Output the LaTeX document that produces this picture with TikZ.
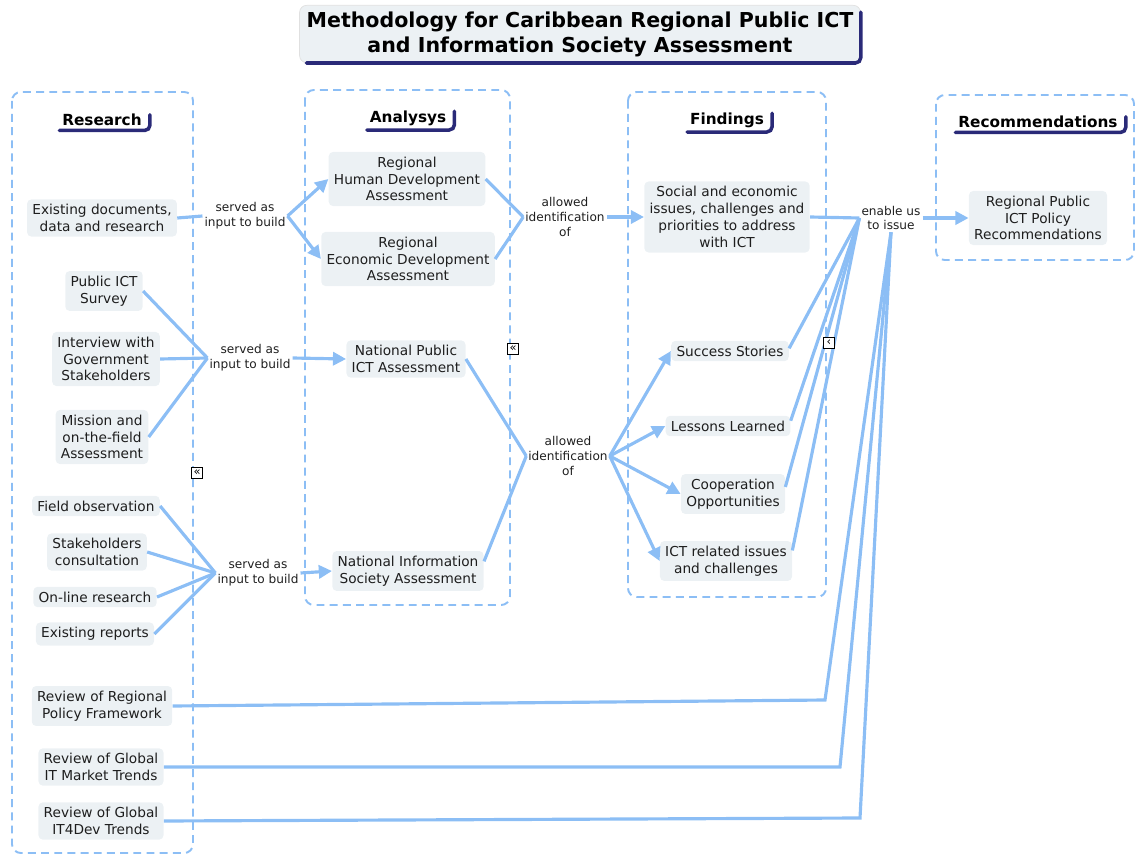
\documentclass[tikz,border=0pt]{standalone}
\usepackage{fontspec}
\setmainfont{DejaVu Sans}
\usetikzlibrary{arrows.meta}

\definecolor{linkblue}{HTML}{8CBEF5}
\definecolor{boxfill}{HTML}{ECF1F4}
\definecolor{navy}{HTML}{2A2A78}
\definecolor{inkgray}{HTML}{1E1E1E}

\tikzset{
  item/.style={fill=boxfill, rounded corners=2.5pt, align=center,
    inner xsep=3pt, inner ysep=2.8pt, text=inkgray,
    font=\fontsize{7.8}{9.6}\selectfont},
  tag/.style={align=center, inner sep=1pt, text=inkgray,
    font=\fontsize{6.9}{8.5}\selectfont},
  header/.style={fill=white, align=center, inner xsep=4.5pt, inner ysep=2.4pt,
    text=black, font=\bfseries\fontsize{8.7}{10.5}\selectfont},
  titlebox/.style={fill=boxfill, draw=black!12, line width=0.4pt,
    rounded corners=4pt, align=center, inner xsep=4pt, inner ysep=3.5pt,
    text=black, font=\bfseries\fontsize{11.7}{14.2}\selectfont},
  frame/.style={draw=linkblue, line width=1.1pt,
    dash pattern=on 4.5pt off 3pt, rounded corners=5pt},
  link/.style={draw=linkblue, line width=1.8pt},
  flow/.style={link, -{Triangle[length=7.5pt,width=7.5pt]}},
  navyedge/.style={draw=navy, line width=2pt, rounded corners=3pt,
    line cap=round},
  marker/.style={draw=black, line width=0.5pt, fill=white, inner sep=0pt,
    minimum size=6.3pt, font=\fontsize{6.5}{6.5}\selectfont}
}

\begin{document}
\begin{tikzpicture}[x=0.02cm, y=-0.02cm]
\useasboundingbox (0,0) rectangle (1137,855);

% column frames
\draw[frame] (12,92) rectangle (193,853);
\draw[frame] (305,90) rectangle (510,605);
\draw[frame] (628,92) rectangle (826,597);
\draw[frame] (936,95) rectangle (1134,260);

% title
\node[titlebox] (title) at (580,34)
  {Methodology for Caribbean Regional Public ICT\\and Information Society Assessment};
\draw[navyedge] ([xshift=4pt]title.south west) -- (title.south east)
  -- ([yshift=-4pt]title.north east);

% column headers
\node[header] (hres) at (102,120) {Research};
\node[header] (hana) at (408,118) {Analysys};
\node[header] (hfin) at (727,120) {Findings};
\node[header] (hrec) at (1038,122) {Recommendations};
\foreach \h in {hres,hana,hfin,hrec}
  \draw[navyedge] ([xshift=3pt]\h.south west) -- (\h.south east)
    -- ([yshift=-3pt]\h.north east);

% research items
\node[item] (docs) at (102,218) {Existing documents,\\data and research};
\node[item] (survey) at (104,291) {Public ICT\\Survey};
\node[item] (interview) at (106,359) {Interview with\\Government\\Stakeholders};
\node[item] (mission) at (102,437) {Mission and\\on-the-field\\Assessment};
\node[item] (fieldobs) at (96,506) {Field observation};
\node[item] (consult) at (97,552) {Stakeholders\\consultation};
\node[item] (online) at (95,597) {On-line research};
\node[item] (reports) at (95,634) {Existing reports};
\node[item] (revreg) at (102,706) {Review of Regional\\Policy Framework};
\node[item] (revmkt) at (101,767) {Review of Global\\IT Market Trends};
\node[item] (revdev) at (101,821) {Review of Global\\IT4Dev Trends};

% analysis items
\node[item] (humdev) at (407,179) {Regional\\Human Development\\Assessment};
\node[item] (ecodev) at (408,259) {Regional\\Economic Development\\Assessment};
\node[item] (natict) at (406,359) {National Public\\ICT Assessment};
\node[item] (natsoc) at (408,571) {National Information\\Society Assessment};

% findings items
\node[item] (issues) at (727,217) {Social and economic\\issues, challenges and\\priorities to address\\with ICT};
\node[item] (success) at (730,351) {Success Stories};
\node[item] (lessons) at (728,426) {Lessons Learned};
\node[item] (coop) at (733,494) {Cooperation\\Opportunities};
\node[item] (ictissues) at (726,561) {ICT related issues\\and challenges};

% recommendations item
\node[item] (policy) at (1038,218) {Regional Public\\ICT Policy\\Recommendations};

% connector labels
\node[tag] (build1) at (245,216) {served as\\input to build};
\node[tag] (build2) at (250,358) {served as\\input to build};
\node[tag] (build3) at (258,573) {served as\\input to build};
\node[tag] (ident1) at (565,217) {allowed\\identification\\of};
\node[tag] (ident2) at (568,456) {allowed\\identification\\of};
\node[tag] (issue) at (891,218) {enable us\\to issue};

% bend points of the review connectors
\coordinate (bendreg) at (825,700);
\coordinate (bendmkt) at (840,767);
\coordinate (benddev) at (860,818);

% research -> analysis
\draw[link] (docs.east) -- (build1.west);
\draw[flow] (build1.east) -- (humdev.west);
\draw[flow] (build1.east) -- (ecodev.west);

\draw[link] (survey.east) -- (build2.west);
\draw[link] (interview.east) -- (build2.west);
\draw[link] (mission.east) -- (build2.west);
\draw[flow] (build2.east) -- (natict.west);

\draw[link] (fieldobs.east) -- (build3.west);
\draw[link] (consult.east) -- (build3.west);
\draw[link] (online.east) -- (build3.west);
\draw[link] (reports.east) -- (build3.west);
\draw[flow] (build3.east) -- (natsoc.west);

% analysis -> findings
\draw[link] (humdev.east) -- (ident1.west);
\draw[link] (ecodev.east) -- (ident1.west);
\draw[flow] (ident1.east) -- (issues.west);

\draw[link] (natict.east) -- (ident2.west);
\draw[link] ([yshift=5.5pt]natsoc.east) -- (ident2.west);
\draw[flow] (ident2.east) -- (success.west);
\draw[flow] (ident2.east) -- (lessons.west);
\draw[flow] (ident2.east) -- (coop.west);
\draw[flow] (ident2.east) -- (ictissues.west);

% findings -> recommendations
\draw[link] (issues.east) -- (issue.west);
\draw[link] ([yshift=1.5pt]success.east) -- (issue.west);
\draw[link] ([yshift=3pt]lessons.east) -- (issue.west);
\draw[link] ([yshift=4pt]coop.east) -- (issue.west);
\draw[link] ([yshift=6pt]ictissues.east) -- (issue.west);
\draw[link] (revreg.east) -- (bendreg) -- (issue.south);
\draw[link] (revmkt.east) -- (bendmkt) -- (issue.south);
\draw[link] (revdev.east) -- (benddev) -- (issue.south);
\draw[flow] (issue.east) -- (policy.west);

% collapse markers
\node[marker] (fold1) at (513,349) {«};
\node[marker] (fold2) at (197,473) {«};
\node[marker] (fold3) at (829,343) {‹};

\end{tikzpicture}
\end{document}
